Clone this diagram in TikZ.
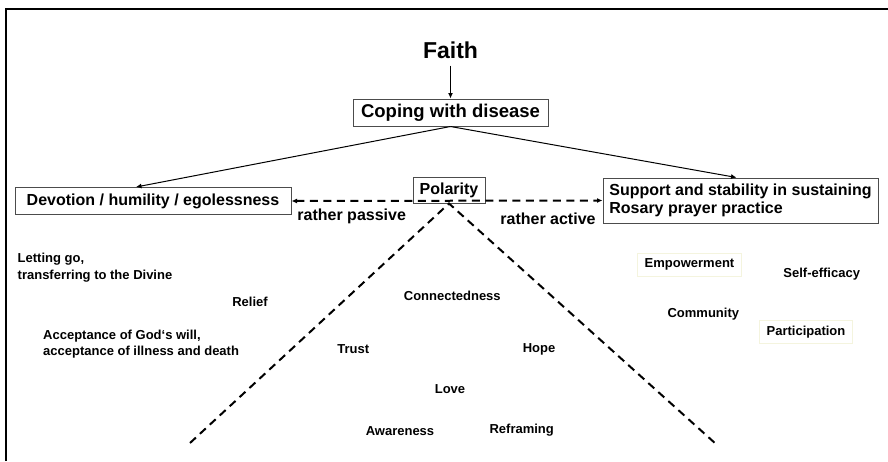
\documentclass[tikz,border=0pt]{standalone}
\usepackage{fontspec}
\setmainfont{Liberation Sans}
\usetikzlibrary{shapes,arrows,arrows.meta,positioning}
\definecolor{paleyellow}{RGB}{244,244,222}

\begin{document}
\begin{tikzpicture}[x=1pt,y=-1pt,>={Latex[length=5.5pt,width=5pt]},
  box/.style={draw=black!70,line width=1pt,inner sep=0pt,align=center,font=\bfseries\fontsize{16}{18.3}\selectfont},
  word/.style={inner sep=0pt,font=\bfseries\fontsize{13}{16.5}\selectfont},
  hint/.style={word,draw=paleyellow,line width=1pt},
  arr/.style={->,line width=1pt},
  pole/.style={line width=2pt,dash pattern=on 8pt off 5.5pt}]
\useasboundingbox (0,0) rectangle (888,461);
% Frame
\draw[line width=2pt] (6,461) -- (6,8.5) -- (888,8.5);

% Coping
\draw(450.5,112.5) node[box,minimum width=195pt,minimum height=27pt,font=\bfseries\fontsize{18.5}{20}\selectfont](Cop){Coping with disease};
\node[above=36pt of Cop,inner sep=4pt,font=\bfseries\fontsize{23}{26}\selectfont](Faith){Faith};
\draw(153,201) node[box,minimum width=276pt,minimum height=27pt](Dev){Devotion / humility / egolessness};
\draw(449,190) node[box,minimum width=72pt,minimum height=26pt](Pol){Polarity};
\draw(740.5,200.5) node[box,align=left,minimum width=275pt,minimum height=45pt](Sup){Support and stability in sustaining\\Rosary prayer practice};
\draw(351.7,216.7) node[box,draw=none](pas){rather passive};
\draw(548,218.7) node[box,draw=none](act){rather active};
% Arrows
\draw[arr,shorten <=3pt] (Faith.south) -- (Cop.north);
\draw[arr] (Cop.south) -- ([xshift=-17pt]Dev.north);
\draw[arr] (Cop.south) -- ([xshift=-4pt]Sup.north);
\draw[pole,<->] (Dev.east) -- (Sup.west);
% Polarity cone
\coordinate (legL) at (190,443);
\coordinate (legR) at (716,444);
\draw[pole] (legL) -- (Pol.south) -- (legR);

% Passive side
\draw(17.5,267.5) node[word,align=left,anchor=west](Let){Letting go,\\transferring to the Divine};
\draw(250,302) node[word](Rel){Relief};
\draw(43,344) node[word,align=left,anchor=west](Acc){Acceptance of God`s will,\\acceptance of illness and death};
% Inside the cone
\draw(452.3,295.7) node[word](Con){Connectedness};
\draw(353.3,349) node[word](Tru){Trust};
\draw(539,349.7) node[word](Hop){Hope};
\draw(450,389.3) node[word](Lov){Love};
\draw(400,431) node[word](Awa){Awareness};
\draw(521.7,430.3) node[word](Ref){Reframing};
% Active side
\draw(689.5,264.7) node[hint,minimum width=104pt,minimum height=23pt](Emp){Empowerment};
\draw(821.7,274.3) node[word](Sel){Self-efficacy};
\draw(703.3,314) node[word](Com){Community};
\draw(806,331.7) node[hint,minimum width=93pt,minimum height=23pt](Par){Participation};

\end{tikzpicture}
\end{document}
